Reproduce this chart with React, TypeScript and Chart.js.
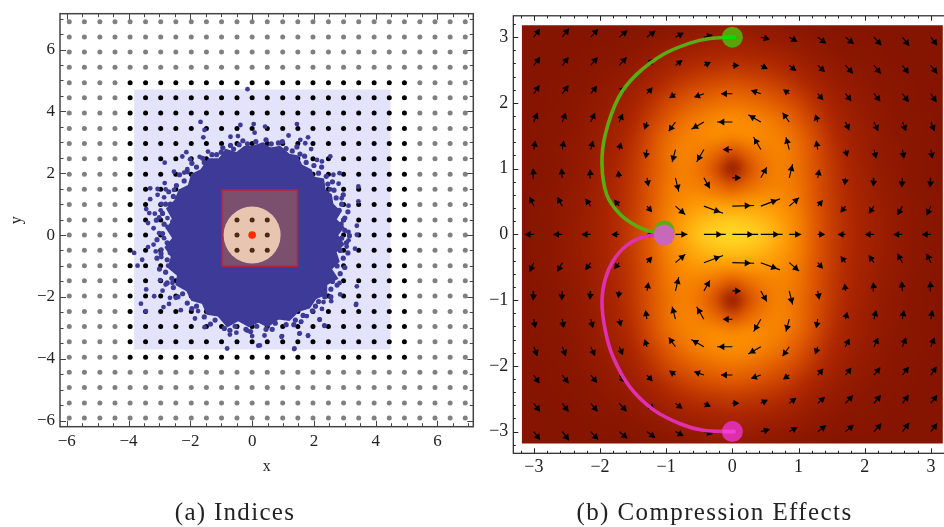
import React, { useEffect, useRef } from "react";
import { Chart, registerables } from "chart.js";

Chart.register(...registerables);

const SERIF = '"Liberation Serif", serif';

// ---------- Left panel: Indices ----------
const latticeValues = [-5.92,-5.43,-4.93,-4.44,-3.95,-3.45,-2.96,-2.47,-1.97,-1.48,-0.99,-0.49,0,0.49,0.99,1.48,1.97,2.47,2.96,3.45,3.95,4.44,4.93,5.43,5.92,6.41,6.9];
const innerLattice = [-0.49, 0, 0.49];
const blackRange = [-3.95, 4.93];
const paleRectX = [-3.82, 4.48];
const paleRectY = [-3.7, 4.71];
const redRectX = [-0.98, 1.47];
const redRectY = [-1.01, 1.46];
const centre = [0, 0];
const blobOutline: number[][] = [[0,2.85],[0.3,2.95],[0.6,2.8],[0.9,2.85],[1.2,2.6],[1.45,2.55],[1.6,2.25],[1.9,2.1],[2.0,1.85],[2.3,1.8],[2.35,1.45],[2.55,1.3],[2.6,1.0],[2.85,0.75],[2.7,0.5],[2.95,0.25],[2.75,0],[2.95,-0.3],[2.7,-0.55],[2.8,-0.85],[2.55,-1.1],[2.75,-1.4],[2.4,-1.6],[2.4,-1.9],[2.05,-2.05],[1.85,-2.35],[1.5,-2.45],[1.2,-2.75],[0.85,-2.7],[0.5,-2.95],[0.2,-2.8],[-0.1,-2.95],[-0.45,-2.75],[-0.8,-2.95],[-1.1,-2.6],[-1.45,-2.55],[-1.6,-2.2],[-1.95,-2.1],[-2.1,-1.8],[-2.45,-1.6],[-2.4,-1.3],[-2.7,-1.05],[-2.6,-0.7],[-2.8,-0.4],[-2.55,-0.1],[-2.75,0.2],[-2.55,0.5],[-2.75,0.85],[-2.5,1.1],[-2.35,1.45],[-2.05,1.6],[-1.95,1.95],[-1.65,2.1],[-1.4,2.45],[-1.05,2.45],[-0.85,2.75],[-0.5,2.65],[-0.25,2.85]];
const rimSamples: number[][] = [[-1.15,2.6],[-0.95,2.82],[-0.7,2.9],[-0.42,2.92],[-0.15,2.95],[0.12,3.02],[0.35,2.92],[0.62,2.95],[0.85,2.98],[1.1,2.8],[1.3,2.72],[1.55,2.62],[1.75,2.35],[2.0,2.25],[2.15,2.0],[2.4,1.9],[2.45,1.65],[2.65,1.45],[2.72,1.2],[2.9,1.0],[2.82,0.8],[3.0,0.55],[2.88,0.35],[3.0,0.15],[2.9,-0.1],[3.05,-0.25],[2.85,-0.5],[2.95,-0.75],[2.75,-1.0],[2.85,-1.25],[2.6,-1.5],[2.55,-1.75],[2.35,-2.0],[2.15,-2.15],[1.95,-2.45],[1.65,-2.6],[1.4,-2.75],[1.1,-2.9],[0.75,-2.85],[0.45,-3.05],[0.15,-2.95],[-0.2,-3.05],[-0.55,-2.95],[-0.9,-3.02],[-1.2,-2.75],[-1.55,-2.65],[-1.8,-2.3],[-2.1,-2.2],[-2.25,-1.9],[-2.55,-1.7],[-2.6,-1.4],[-2.8,-1.2],[-2.75,-0.8],[-2.95,-0.6],[-2.75,-0.25],[-2.9,0.05],[-2.85,0.35],[-2.9,0.7],[-2.65,1.0],[-2.55,1.25],[-2.45,1.6],[-2.2,1.75],[-2.1,2.05],[-1.8,2.2],[-1.55,2.35],[-1.3,2.6],
[-1.0,2.68],[-0.6,2.78],[-0.3,3.05],[0.45,3.08],[0.98,3.02],[1.45,2.85],[1.7,2.55],[2.25,2.2],[2.6,1.72],[2.95,1.3],[3.1,0.75],[3.15,-0.02],[3.1,-0.58],[3.0,-1.05],[2.75,-1.62],[2.55,-2.0],[2.05,-2.3],[1.35,-2.9],[0.65,-3.05],[-0.05,-3.12],[-0.72,-3.08],[-1.35,-2.88],[-1.95,-2.38],[-2.4,-2.0],[-2.75,-1.55],[-3.0,-1.1],[-3.08,-0.75],[-3.08,-0.15],[-3.1,0.48],[-2.8,1.0],[-2.7,1.4],[-2.35,1.95],[-1.95,2.32],[-1.6,2.48]];
const outlierSamples: number[][] = [[-1.67,3.66],[-1.54,3.4],[-1.58,3.16],[-0.7,3.18],[-0.46,3.2],[-0.38,3.56],[0.05,3.59],[0.42,3.51],[0.08,3.31],[1.45,3.59],[1.18,3.22],[1.56,3.08],[1.81,3.16],[1.72,2.97],[1.91,2.78],[2.53,2.54],[2.26,2.38],[2.1,2.43],[-2.83,2.34],[-2.26,2.54],[-2.13,2.68],[-2.01,2.45],[-1.7,2.53],[-1.43,2.7],[-2.53,2.05],[-2.2,2.02],[-2.1,2.13],[-2.83,1.68],[-3.3,1.51],[-3.06,1.49],[-2.8,1.48],[-2.53,1.46],[-3.06,1.3],[-3.3,1.16],[-2.85,1.22],[-2.94,1.01],[-2.96,0.8],[-3.43,0.84],[-3.33,0.71],[-3.15,0.69],[-3.01,0.57],[-2.74,0.55],[-3.37,0.39],[-3.19,0.22],[-3.01,0.06],[-2.85,-0.1],[-2.74,0.26],[-2.58,0.44],[-3.82,-0.58],[-3.56,-0.8],[-3.71,-0.99],[-3.37,-0.39],[-3.19,-0.31],[-3.12,-0.53],[-2.94,-0.71],[-2.94,-0.47],[-2.66,-0.58],[-2.72,-0.99],[-2.98,-1.46],[-2.8,-1.6],[-2.58,-1.55],[-3.43,-1.76],[-2.9,-1.8],[-3.17,-1.98],[-2.66,-2.03],[-3.6,-2.22],[-2.69,-2.23],[-2.47,-2.03],[-2.87,-2.33],[-3.44,-2.46],[-2.31,-2.43],[-1.75,-2.46],[-1.85,-2.7],[-1.54,-2.98],[-0.72,-3.22],[-0.51,-3.16],[-0.81,-3.67],[-0.16,-3.09],[0,-3.27],[0.4,-3.25],[0.25,-3.57],[0.97,-3.27],[1.37,-3.67],[1.54,-3.18],[1.81,-3.25],[1.59,-2.8],[2.18,-2.73],[2.34,-2.92],[1.77,-2.62],[2.26,-2.39],[2.56,-2.14],[2.31,-2.17],[1.67,-2.35],[3.39,-1.66],[3.37,-2.23],[2.85,-1.92],[2.83,-1.55],[3.33,-0.44],[3.06,-0.37],[3.39,0.01],[3.12,0.1],[3.39,0.3],[3.12,-0.17],[2.96,0.49],[3.12,0.95],[2.9,1.19],[3.44,1.09],[3.44,1.57],[2.8,1.66],[2.53,1.48],[2.83,2.0],[2.63,1.95],[-0.15,4.72],[3.36,-2.26],[1.36,-3.69],[2.34,-2.94],[2.19,-2.74],[1.81,-3.26],[1.53,-3.19],[0.95,-3.29],[1.58,-2.81],[0.2,-3.58]];
const leftTicks = [-6, -4, -2, 0, 2, 4, 6];
const leftMinor = [-6,-5.5,-5,-4.5,-4,-3.5,-3,-2.5,-2,-1.5,-1,-0.5,0,0.5,1,1.5,2,2.5,3,3.5,4,4.5,5,5.5,6,6.5,7];

// ---------- Right panel: Compression Effects ----------
const rightTicks = [-3, -2, -1, 0, 1, 2, 3];
const rightMinor = [-3.2,-3,-2.8,-2.6,-2.4,-2.2,-2,-1.8,-1.6,-1.4,-1.2,-1,-0.8,-0.6,-0.4,-0.2,0,0.2,0.4,0.6,0.8,1,1.2,1.4,1.6,1.8,2,2.2,2.4,2.6,2.8,3,3.2];
const heatExtent = 3.18;
const heatStep = 0.25;
// Upper-right quadrant; rows y = 0..3.25, columns x = 0..3.25, both every 0.25
const heatQuadrant: number[][] = [
  [1.0,.98,.92,.8,.66,.5,.36,.26,.18,.12,.08,.04,.02,0],
  [.92,.9,.85,.76,.65,.5,.36,.26,.18,.12,.08,.04,.02,0],
  [.72,.74,.74,.7,.62,.48,.35,.25,.17,.11,.07,.04,.02,0],
  [.46,.56,.64,.66,.6,.47,.34,.24,.16,.1,.06,.03,.01,0],
  [.1,.44,.6,.65,.58,.46,.33,.22,.15,.09,.05,.03,.01,0],
  [.44,.56,.64,.66,.58,.45,.31,.2,.13,.08,.05,.02,.01,0],
  [.68,.7,.68,.64,.55,.42,.28,.18,.12,.07,.04,.02,.01,0],
  [.7,.68,.64,.58,.48,.36,.24,.15,.1,.06,.03,.02,.01,0],
  [.6,.58,.54,.48,.4,.29,.19,.12,.08,.05,.03,.01,0,0],
  [.48,.46,.42,.37,.29,.21,.14,.09,.06,.03,.02,.01,0,0],
  [.34,.32,.3,.26,.2,.14,.09,.06,.04,.02,.01,0,0,0],
  [.22,.21,.19,.16,.12,.08,.05,.03,.02,.01,0,0,0,0],
  [.13,.12,.1,.08,.06,.04,.02,.01,.01,0,0,0,0,0],
  [.06,.05,.04,.03,.02,.01,0,0,0,0,0,0,0,0],
];
const rampStops = [0, 0.25, 0.5, 0.7, 0.85, 1];
const rampColours = [[133,20,0],[176,40,0],[224,90,0],[251,140,0],[255,176,16],[255,216,36]];
const arrowGrid = [0, 0.43, 0.86, 1.29, 1.71, 2.14, 2.57, 3];
const arrowU: number[][] = [
  [.39,.33,.18,.08,-.09,-.12,-.12,-.12],
  [.33,.29,.15,.06,-.06,-.07,-.07,-.06],
  [.11,.09,.05,.02,-.01,-.01,-.01,-.01],
  [-.13,-.11,-.05,-.02,.02,.03,.02,.02],
  [-.23,-.19,-.1,-.03,.05,.06,.05,.05],
  [-.17,-.14,-.07,.07,.08,.09,.09,.08],
  [.07,.08,.09,.1,.11,.1,.09,.09],
  [.1,.12,.11,.12,.12,.11,.1,.09],
];
const arrowV: number[][] = [
  [0,0,0,0,0,0,0,0],
  [.01,.11,.13,.07,-.08,-.1,-.13,-.13],
  [0,.16,.21,.11,-.08,-.11,-.13,-.13],
  [0,.19,.19,.12,-.08,-.12,-.12,-.12],
  [0,.11,.14,.09,-.11,-.13,-.13,-.13],
  [0,.05,.05,-.08,-.1,-.11,-.12,-.12],
  [0,-.04,-.07,-.09,-.12,-.12,-.12,-.12],
  [0,-.03,-.06,-.09,-.1,-.12,-.13,-.12],
];
const greenPathX = [0,-0.34,-0.64,-1.04,-1.45,-1.72,-1.92,-1.97,-1.9,-1.7,-1.45,-1.19,-1.03];
const greenPathY = [3,2.98,2.91,2.74,2.43,2.08,1.52,1.07,0.61,0.31,0.13,0.03,0];
const pinkPathX = [-1.03,-1.34,-1.6,-1.8,-1.92,-1.97,-1.92,-1.8,-1.55,-1.19,-0.79,-0.44,0];
const pinkPathY = [0,-0.04,-0.17,-0.4,-0.68,-1.03,-1.46,-1.87,-2.32,-2.67,-2.88,-2.98,-3];

const toXY = (xs: number[], ys: number[]) => xs.map((x, i) => ({ x, y: ys[i] }));
const pairs = (list: number[][]) => list.map(([x, y]) => ({ x, y }));
const rect = (xs: number[], ys: number[]) => [
  { x: xs[0], y: ys[0] }, { x: xs[1], y: ys[0] }, { x: xs[1], y: ys[1] }, { x: xs[0], y: ys[1] }, { x: xs[0], y: ys[0] },
];
const minus = (v: number) => (v < 0 ? "\u2212" + Math.abs(v) : String(v));

function framePlugin(major: number[], minor: number[], majorLen: number, minorLen: number, colour: string, lw: number) {
  return {
    id: "frame",
    afterDatasetsDraw(chart: any) {
      const { ctx, chartArea: a, scales } = chart;
      ctx.save();
      ctx.strokeStyle = colour;
      ctx.lineWidth = 1;
      const set = new Set(major);
      for (const v of minor) {
        const len = set.has(v) ? majorLen : minorLen;
        const px = Math.round(scales.x.getPixelForValue(v)) + 0.5;
        const py = Math.round(scales.y.getPixelForValue(v)) + 0.5;
        ctx.beginPath();
        ctx.moveTo(px, a.top); ctx.lineTo(px, a.top + len);
        ctx.moveTo(px, a.bottom); ctx.lineTo(px, a.bottom - len);
        ctx.moveTo(a.left, py); ctx.lineTo(a.left + len, py);
        ctx.moveTo(a.right, py); ctx.lineTo(a.right - len, py);
        ctx.stroke();
      }
      ctx.lineWidth = lw;
      ctx.strokeRect(a.left, a.top, a.right - a.left, a.bottom - a.top);
      ctx.restore();
    },
  };
}

const heatPlugin = {
  id: "heat",
  beforeDatasetsDraw(chart: any) {
    const { ctx, scales } = chart;
    const n = heatQuadrant.length;
    const size = 2 * n - 1;
    const off = document.createElement("canvas");
    off.width = size;
    off.height = size;
    const octx = off.getContext("2d")!;
    const img = octx.createImageData(size, size);
    for (let r = 0; r < size; r++) {
      for (let c = 0; c < size; c++) {
        const v = heatQuadrant[Math.abs(r - (n - 1))][Math.abs(c - (n - 1))];
        let s = 0;
        while (s < rampStops.length - 2 && v > rampStops[s + 1]) s++;
        const t = (v - rampStops[s]) / (rampStops[s + 1] - rampStops[s]);
        const i = (r * size + c) * 4;
        for (let k = 0; k < 3; k++) img.data[i + k] = rampColours[s][k] + t * (rampColours[s + 1][k] - rampColours[s][k]);
        img.data[i + 3] = 255;
      }
    }
    octx.putImageData(img, 0, 0);
    const lim = (n - 1) * heatStep + heatStep / 2;
    const x0 = scales.x.getPixelForValue(-lim), x1 = scales.x.getPixelForValue(lim);
    const y0 = scales.y.getPixelForValue(lim), y1 = scales.y.getPixelForValue(-lim);
    const cx0 = scales.x.getPixelForValue(-heatExtent), cx1 = scales.x.getPixelForValue(heatExtent);
    const cy0 = scales.y.getPixelForValue(heatExtent), cy1 = scales.y.getPixelForValue(-heatExtent);
    ctx.save();
    ctx.beginPath();
    ctx.rect(cx0, cy0, cx1 - cx0, cy1 - cy0);
    ctx.clip();
    ctx.imageSmoothingEnabled = true;
    ctx.imageSmoothingQuality = "high";
    ctx.drawImage(off, x0, y0, x1 - x0, y1 - y0);
    ctx.restore();
  },
};

function axes(min: number, max: number, ticks: number[], font: number, widthOrHeight: number, title?: string, titleSize?: number, padding = 5) {
  return {
    type: "linear",
    min,
    max,
    grid: { display: false, drawTicks: false },
    border: { display: false },
    afterBuildTicks: (s: any) => { s.ticks = ticks.map((value) => ({ value })); },
    afterFit: (s: any) => {
      if (s.isHorizontal()) s.height = widthOrHeight; else s.width = widthOrHeight;
    },
    ticks: {
      autoSkip: false,
      maxRotation: 0,
      padding,
      color: "#222",
      font: { family: SERIF, size: font },
      callback: (v: any) => minus(Number(v)),
    },
    title: title
      ? { display: true, text: title, color: "#222", padding: 0, font: { family: SERIF, size: titleSize } }
      : { display: false },
  };
}

function withOrder(list: any[]) {
  return list.map((d, i) => ({ order: list.length - i, ...d }));
}

function leftConfig(): any {
  const lattice = latticeValues.flatMap((x) => latticeValues.map((y) => ({ x, y })));
  const isBlack = (p: { x: number; y: number }) =>
    p.x >= blackRange[0] && p.x <= blackRange[1] && p.y >= blackRange[0] && p.y <= blackRange[1];
  const inner = innerLattice.flatMap((x) => innerLattice.map((y) => ({ x, y })));
  const dots = (data: any[], colour: string, radius: number) => ({
    data, showLine: false, pointRadius: radius, pointBackgroundColor: colour, pointBorderWidth: 0,
  });
  const blue = "#3d3b97";
  return {
    type: "scatter",
    data: {
      datasets: withOrder([
        { data: rect(paleRectX, paleRectY), showLine: true, fill: "shape", backgroundColor: "#e3e3fb", borderWidth: 0, pointRadius: 0 },
        dots(lattice.filter((p) => !isBlack(p)), "#808080", 2.5),
        dots(lattice.filter(isBlack), "#000000", 2.5),
        { data: pairs([...blobOutline, blobOutline[0]]), showLine: true, fill: "shape", backgroundColor: blue, borderColor: blue, borderWidth: 2, pointRadius: 0, tension: 0 },
        dots(pairs(rimSamples), blue, 2.6),
        dots(pairs(outlierSamples), blue, 2.4),
        { data: rect(redRectX, redRectY), showLine: true, fill: "shape", backgroundColor: "#7a506e", borderColor: "#b8203c", borderWidth: 1.6, pointRadius: 0 },
        dots([{ x: centre[0], y: centre[1] }], "#e8c5b0", 28.5),
        dots(inner, "#4a2a14", 2.5),
        dots([{ x: centre[0], y: centre[1] }], "#ff2a00", 3.8),
      ]),
    },
    options: {
      responsive: false,
      animation: false,
      layout: { padding: { left: 7, top: 28.7, right: 28.7, bottom: 51 } },
      plugins: { legend: { display: false }, tooltip: { enabled: false } },
      scales: {
        x: axes(-6.22, 7.16, leftTicks, 17, 49.3, "x", 16),
        y: axes(-6.2, 7.16, leftTicks, 17, 53, "y", 16),
      },
    },
    plugins: [framePlugin(leftTicks, leftMinor, 6, 3.5, "#444", 1.5)],
  };
}

function rightConfig(): any {
  const shafts: any[] = [];
  const heads: any[] = [];
  const rot: number[] = [];
  arrowGrid.forEach((gy, m) => {
    [1, -1].forEach((sy) => {
      if (m === 0 && sy < 0) return;
      arrowGrid.forEach((gx, k) => {
        [1, -1].forEach((sx) => {
          if (k === 0 && sx < 0) return;
          const x = gx * sx, y = gy * sy;
          const u = arrowU[m][k], v = arrowV[m][k] * sx * sy;
          shafts.push({ x, y }, { x: x + u, y: y + v }, { x: NaN, y: NaN });
          heads.push({ x: x + 0.66 * u, y: y + 0.66 * v });
          rot.push((Math.atan2(u, v) * 180) / Math.PI);
        });
      });
    });
  });
  const line = (xs: number[], ys: number[], colour: string) => ({
    data: toXY(xs, ys), showLine: true, borderColor: colour, borderWidth: 3.6, pointRadius: 0, tension: 0.35, fill: false,
  });
  const dot = (x: number, y: number, colour: string) => ({
    data: [{ x, y }], showLine: false, pointRadius: 10.5, pointBackgroundColor: colour, pointBorderWidth: 0,
  });
  return {
    type: "scatter",
    data: {
      datasets: withOrder([
        { data: shafts, showLine: true, spanGaps: false, borderColor: "#000", borderWidth: 1.1, pointRadius: 0 },
        { data: heads, showLine: false, pointStyle: "triangle", pointRadius: 4, pointBackgroundColor: "#000", pointBorderWidth: 0, pointRotation: (c: any) => rot[c.dataIndex] },
        line(greenPathX, greenPathY, "#5cab10"),
        line(pinkPathX, pinkPathY, "#e030b0"),
        dot(greenPathX[0], greenPathY[0], "rgba(84,172,14,0.95)"),
        dot(pinkPathX[pinkPathX.length - 1], pinkPathY[pinkPathY.length - 1], "rgba(226,48,178,0.95)"),
        dot(-1.03, 0.05, "#5cab10"),
        dot(-1.03, -0.01, "#c868b8"),
        { data: toXY([-0.15, 0.05], [3, 3]), showLine: true, borderColor: "#00e000", borderWidth: 3.6, pointRadius: 0 },
        { data: toXY([-0.15, 0.05], [-3, -3]), showLine: true, borderColor: "#f040d8", borderWidth: 3.6, pointRadius: 0 },
      ]),
    },
    options: {
      responsive: false,
      animation: false,
      layout: { padding: { left: 0, top: 14.7, right: 28.6, bottom: 43.7 } },
      plugins: { legend: { display: false }, tooltip: { enabled: false } },
      scales: {
        x: axes(-3.31, 3.31, rightTicks, 18, 30, undefined, undefined, 3),
        y: axes(-3.33, 3.325, rightTicks, 18, 43.3, undefined, undefined, 5),
      },
    },
    plugins: [heatPlugin, framePlugin(rightTicks, rightMinor, 5, 2.5, "#222", 1.2)],
  };
}

const captionStyle = (center: number, spacing: number): React.CSSProperties => ({
  position: "absolute",
  left: center - 200,
  width: 400,
  top: 497,
  textAlign: "center",
  fontFamily: SERIF,
  fontSize: 25,
  lineHeight: "30px",
  letterSpacing: spacing,
  color: "#222",
  whiteSpace: "nowrap",
});

export default function App() {
  const leftRef = useRef<HTMLCanvasElement>(null);
  const rightRef = useRef<HTMLCanvasElement>(null);
  useEffect(() => {
    const a = new Chart(leftRef.current!, leftConfig());
    const b = new Chart(rightRef.current!, rightConfig());
    return () => { a.destroy(); b.destroy(); };
  }, []);
  return (
    <div style={{ position: "fixed", left: 0, top: 0, width: 944, height: 527, overflow: "hidden", background: "#fff" }}>
      <canvas ref={leftRef} width={502} height={542} style={{ position: "absolute", left: 0, top: -15, width: 502, height: 542 }} />
      <canvas ref={rightRef} width={510} height={527} style={{ position: "absolute", left: 470, top: 0, width: 510, height: 527 }} />
      <div style={captionStyle(235, 1.3)}>(a) Indices</div>
      <div style={captionStyle(714.5, 1.4)}>(b) Compression Effects</div>
    </div>
  );
}
